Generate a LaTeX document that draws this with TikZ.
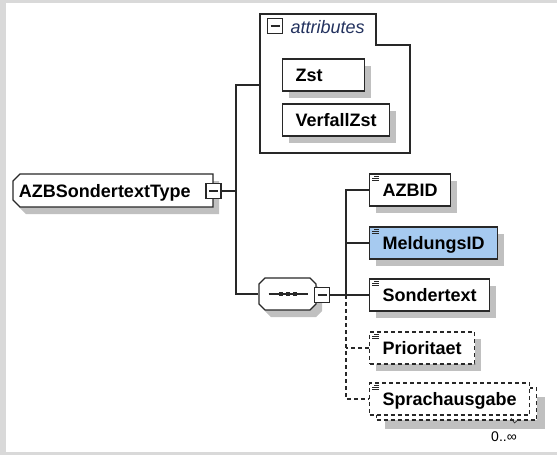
\documentclass[tikz,border=0pt]{standalone}
\usepackage{fontspec}
\setmainfont{Liberation Sans}
\usetikzlibrary{shadows}

\definecolor{framegray}{RGB}{217,217,217}
\definecolor{shadowgray}{RGB}{192,192,192}
\definecolor{idblue}{RGB}{166,202,240}
\definecolor{attrtext}{RGB}{35,50,95}
\definecolor{wire}{RGB}{40,40,40}

\tikzset{
  elembox/.style={draw=wire, fill=white, anchor=west, font=\bfseries\fontsize{18}{21}\selectfont,
    minimum height=32pt, inner xsep=13pt, inner ysep=0pt, text height=13pt, text depth=0pt},
  withshadow/.style={drop shadow={shadow xshift=6pt, shadow yshift=-7pt, fill=shadowgray, opacity=1}},
  optional/.style={dash pattern=on 4pt off 3pt},
  minusbox/.style={draw=wire, fill=white, minimum size=15pt, inner sep=0pt,
    path picture={\draw[wire] ([xshift=3pt]path picture bounding box.west) -- ([xshift=-3pt]path picture bounding box.east);}},
  ctlabel/.style={minimum width=201pt, minimum height=33pt, inner xsep=7pt, inner ysep=0pt,
    text width=187pt, align=left, font=\bfseries\fontsize{18}{21}\selectfont,
    text height=13pt, text depth=0pt}
}

\begin{document}
\begin{tikzpicture}[x=1pt, y=-1pt, line width=1.2pt]
  \useasboundingbox (0,0) rectangle (557,455);
  \fill[framegray] (0,0) rectangle (557,455);
  \fill[white] (6,3) rectangle (557,452);

  % complex type
  \fill[shadowgray, shift={(6,7)}] (20,174) -- (213,174) -- (213,207) -- (20,207) -- (13,200) -- (13,181) -- cycle;
  \draw[wire, fill=white] (20,174) -- (213,174) -- (213,207) -- (20,207) -- (13,200) -- (13,181) -- cycle;
  \node[ctlabel] (ct) at (112.5,190.5) {AZBSondertextType};
  \node[minusbox] (ctm) at (213.5,191) {};
  \coordinate (trunk) at (236,191);

  % attributes
  \draw[wire, fill=white] (260,14) -- (376,14) -- (376,45) -- (410,45) -- (410,153) -- (260,153) -- cycle;
  \node[minusbox] (attrm) at (275,26) {};
  \node[anchor=west, text=attrtext, font=\itshape\fontsize{18}{21}\selectfont, inner sep=0pt] (attrlbl) at (290,27) {attributes};
  \coordinate (attr) at (260,85);
  \node[elembox, withshadow, text width=56pt, align=left] (zst) at (282,75) {Zst};
  \node[elembox, withshadow] (verfall) at (282,120) {VerfallZst};

  % sequence
  \fill[shadowgray, shift={(6,7)}] (265,278) -- (310,278) -- (316,284) -- (316,304) -- (310,310) -- (265,310) -- (259,304) -- (259,284) -- cycle;
  \draw[wire, fill=white] (265,278) -- (310,278) -- (316,284) -- (316,304) -- (310,310) -- (265,310) -- (259,304) -- (259,284) -- cycle;
  \node[minimum width=57pt, minimum height=32pt, inner sep=0pt] (seq) at (287.5,294) {};
  \draw[wire] ([xshift=-19pt]seq.center) -- ([xshift=20pt]seq.center);
  \foreach \dx in {-7,0,7}
    \fill[wire] ([xshift=\dx pt-2pt, yshift=-2pt]seq.center) rectangle +(4,-4);
  \node[minusbox] (seqm) at (322,295) {};
  \coordinate (comb) at (346,295);

  % children
  \node[elembox, withshadow] (azbid) at (369,190) {AZBID};
  \node[elembox, withshadow, fill=idblue] (meldung) at (369,243) {MeldungsID};
  \node[elembox, withshadow] (sondertext) at (369,295) {Sondertext};
  \node[elembox, withshadow, optional] (prio) at (369,348) {Prioritaet};
  \node[elembox, optional, drop shadow={shadow xshift=8pt, shadow yshift=-9pt, fill=shadowgray, opacity=1}] (sprachbk) at (376,404) {\phantom{Sprachausgabe}};
  \node[elembox, optional] (sprach) at (369,399) {Sprachausgabe};
  \foreach \n in {azbid,meldung,sondertext,prio,sprach}
    \foreach \dy/\sx in {2.5/5,4.5/3,6.5/3}
      \draw[wire, line width=0.8pt] ([xshift=\sx pt, yshift=-\dy pt]\n.north west) -- ([xshift=10pt, yshift=-\dy pt]\n.north west);

  % connectors
  \draw[wire] (ctm.east) -- (trunk);
  \draw[wire] (attr) -- (attr -| trunk) -- (trunk |- seq.west) -- (seq.west);
  \draw[wire] (seqm.east) -- (comb);
  \draw[wire] (azbid.west) -- (azbid.west -| comb) -- (comb |- sondertext.west) -- (sondertext.west);
  \draw[wire] (meldung.west) -- (meldung.west -| comb);
  \draw[wire, optional] (comb) -- (comb |- sprach.west) -- (sprach.west);
  \draw[wire, optional] (prio.west) -- (prio.west -| comb);

  % occurrence
  \draw[wire, line width=0.6pt] (511,418) -- (514.5,423) -- (519,419);
  \node[font=\fontsize{14}{16}\selectfont, inner sep=0pt] (occurs) at (504,437) {0..∞};
\end{tikzpicture}
\end{document}
